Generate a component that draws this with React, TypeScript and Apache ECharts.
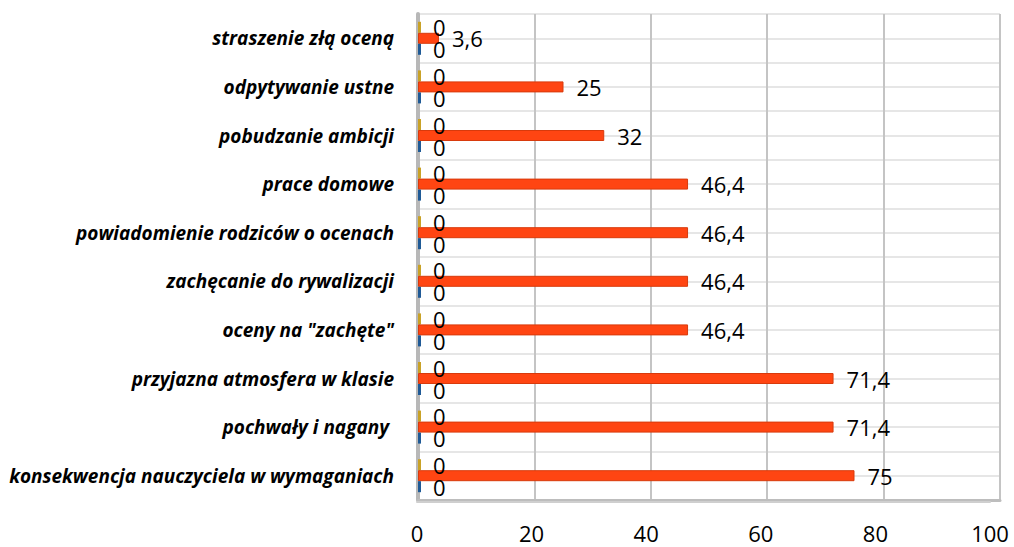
import React, { useEffect, useRef } from "react";
import * as echarts from "echarts";

const categories = [
  "straszenie złą oceną",
  "odpytywanie ustne",
  "pobudzanie ambicji",
  "prace domowe",
  "powiadomienie rodziców o ocenach",
  "zachęcanie do rywalizacji",
  'oceny na "zachęte"',
  "przyjazna atmosfera w klasie",
  "pochwały i nagany ",
  "konsekwencja nauczyciela w wymaganiach",
];
const seriesA = [0, 0, 0, 0, 0, 0, 0, 0, 0, 0];
const seriesB = [3.6, 25, 32, 46.4, 46.4, 46.4, 46.4, 71.4, 71.4, 75];
const seriesC = [0, 0, 0, 0, 0, 0, 0, 0, 0, 0];
const xTicks = [0, 20, 40, 60, 80, 100];

const fmt = (p: any) => String(p.value).replace(".", ",");

export default function App() {
  const ref = useRef<HTMLDivElement>(null);
  useEffect(() => {
    document.body.style.margin = "0";
    const chart = echarts.init(ref.current!, null, { renderer: "svg" });
    const label = {
      show: true,
      position: "right" as const,
      distance: 13,
      color: "#000",
      fontSize: 22,
      fontFamily: "'Open Sans', sans-serif",
      formatter: fmt,
    };
    chart.setOption({
      animation: false,
      grid: [
        {
          left: 418,
          right: 14,
          top: 14,
          bottom: 47,
          containLabel: false,
          outerBoundsMode: "none",
        },
        {
          left: 417,
          right: 24,
          top: 14,
          bottom: 45,
          containLabel: false,
          outerBoundsMode: "none",
        },
      ],
      xAxis: [
        {
          type: "value",
          gridIndex: 0,
          min: xTicks[0],
          max: xTicks[xTicks.length - 1],
          interval: 20,
          axisLine: { show: true, lineStyle: { color: "#bdbdbd", width: 3 } },
          axisTick: { show: false },
          axisLabel: { show: false },
          splitLine: { show: true, lineStyle: { color: "#c4c4c4", width: 2 } },
        },
        {
          type: "value",
          gridIndex: 1,
          min: xTicks[0],
          max: xTicks[xTicks.length - 1],
          interval: 20,
          axisLine: { show: true, lineStyle: { color: "#cfcfcf", width: 2 } },
          axisTick: { show: false },
          axisLabel: {
            color: "#000",
            fontSize: 22,
            fontFamily: "'Open Sans', sans-serif",
            margin: 20,
          },
          splitLine: { show: false },
        },
      ],
      yAxis: [
        {
          type: "category",
          gridIndex: 0,
          data: categories,
          inverse: true,
          axisLine: { show: true, lineStyle: { color: "#b8b8b8", width: 4 } },
          axisTick: { show: false },
          axisLabel: {
            color: "#000",
            fontSize: 19,
            fontWeight: "bold",
            fontStyle: "italic",
            fontFamily: "'Open Sans', sans-serif",
            margin: 24,
          },
          splitLine: { show: true, lineStyle: { color: "#c4c4c4", width: 2 } },
        },
        {
          type: "value",
          gridIndex: 0,
          min: 0,
          max: 20,
          interval: 1,
          show: true,
          axisLine: { show: false },
          axisTick: { show: false },
          axisLabel: { show: false },
          splitLine: { show: true, lineStyle: { color: "#e6e6e6", width: 2 } },
        },
        {
          type: "value",
          gridIndex: 1,
          show: false,
        },
      ],
      series: [
        {
          type: "bar",
          data: seriesA,
          barWidth: 11,
          barGap: "0%",
          barMinHeight: 3,
          itemStyle: { color: "#C9A227" },
          label: { ...label, distance: 12 },
        },
        {
          type: "bar",
          data: seriesB,
          barWidth: 11,
          barGap: "0%",
          itemStyle: { color: "#FF4512", borderColor: "#D83A0C", borderWidth: 1 },
          label,
        },
        {
          type: "bar",
          data: seriesC,
          barWidth: 11,
          barGap: "0%",
          barMinHeight: 3,
          itemStyle: { color: "#1F5A96" },
          label: { ...label, distance: 12 },
        },
      ],
    });
    return () => chart.dispose();
  }, []);
  return <div ref={ref} style={{ width: 1014, height: 547 }} />;
}
